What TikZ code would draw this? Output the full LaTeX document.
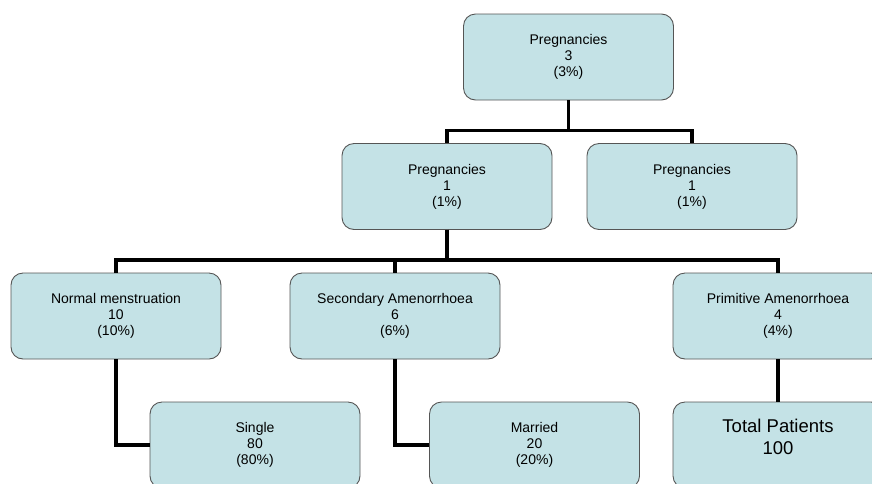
\documentclass[tikz,border=0pt]{standalone}
\usepackage{fontspec}
\setmainfont{Liberation Sans}
\definecolor{boxblue}{RGB}{196,226,230}
\definecolor{boxline}{RGB}{85,85,85}
\begin{document}
\begin{tikzpicture}
        [x=1pt, y=-1pt,
        node/.style={rectangle, rounded corners=12pt, draw=boxline, line width=0.9pt, fill=boxblue,
            minimum width=210pt, minimum height=86pt, align=center, inner sep=0pt,
            font=\fontsize{14}{16}\selectfont},
        bignode/.style={node, font=\fontsize{18.5}{22}\selectfont},
        edge/.style={line width=3.8pt, black}]

        \useasboundingbox (0,0) rectangle (872,483);
        \clip (0,0) rectangle (872,483);

        \node[node] (top) at (568.5,57) {Pregnancies\\3\\(3\%)};
        \node[node] (pa) at (447,186.5) {Pregnancies\\1\\(1\%)};
        \node[node] (pb) at (692,186.5) {Pregnancies\\1\\(1\%)};
        \node[node] (normal) at (116,316) {Normal menstruation\\10\\(10\%)};
        \node[node] (second) at (395,316) {Secondary Amenorrhoea\\6\\(6\%)};
        \node[node] (prim) at (778,316) {Primitive Amenorrhoea\\4\\(4\%)};
        \node[node] (single) at (255,445) {Single\\80\\(80\%)};
        \node[node] (married) at (534.5,445) {Married\\20\\(20\%)};
        \node[bignode] (total) at (778,445) {Total Patients\\100\\[-6pt]\mbox{}};

        % tree edges
        \draw[edge] (top.south) -- ++(0,30) -| (pa.north);
        \draw[edge] (top.south) -- ++(0,30) -| (pb.north);
        \draw[edge] (pa.south) -- ++(0,30) -| (normal.north);
        \draw[edge] (pa.south) -- ++(0,30) -| (second.north);
        \draw[edge] (pa.south) -- ++(0,30) -| (prim.north);

        % elbow edges
        \draw[edge] (normal.south) |- (single.west);
        \draw[edge] (second.south) |- (married.west);
        \draw[edge] (prim) -- (total);

    \end{tikzpicture}
\end{document}
